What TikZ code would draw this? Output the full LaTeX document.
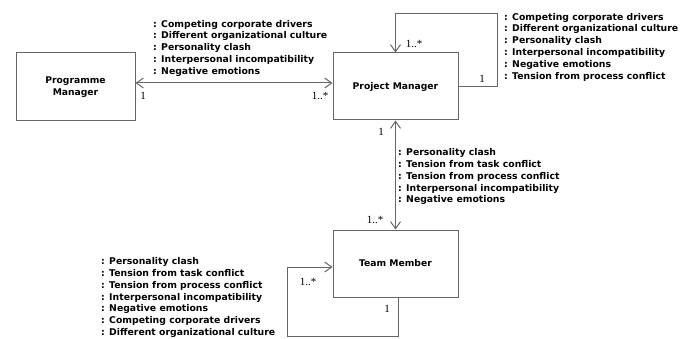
\documentclass[tikz,border=0pt]{standalone}
\usepackage{fontspec}
\setsansfont{DejaVu Sans}
\newfontfamily\multfont{Liberation Serif}
\usetikzlibrary{arrows.meta,calc}
\definecolor{linegray}{HTML}{666666}
\begin{document}
\begin{tikzpicture}[x=1pt,y=-1pt,
  >={Straight Barb[length=7pt,width=10pt]},
  cls/.style={draw=linegray, line width=1pt, rectangle, inner sep=0pt,
    font=\sffamily\bfseries\fontsize{9.2}{12.3}\selectfont, align=center},
  rel/.style={draw=linegray, line width=1pt},
  lbl/.style={anchor=north west, inner sep=0pt, align=left,
    font=\sffamily\bfseries\fontsize{9.3}{11.8}\selectfont},
  mult/.style={inner sep=0pt, font=\multfont\fontsize{11}{12}\selectfont}]
\useasboundingbox (0,0) rectangle (695,339);

\node[cls, minimum width=119pt, minimum height=68pt] (pgm) at (75.5,87) {Programme\\Manager};
\node[cls, minimum width=125pt, minimum height=67pt] (pm) at (395.5,86.5) {Project Manager};
\node[cls, minimum width=125pt, minimum height=67pt] (tm) at (395.5,263.5) {Team Member};

% programme manager -- project manager
\coordinate (h) at (0,83);
\draw[rel,<->] (pgm.east |- h) -- (pm.west |- h);
\node[lbl] (l1) at (153,19.9) {: Competing corporate drivers\\: Different organizational culture\\: Personality clash\\: Interpersonal incompatibility\\: Negative emotions};
\node[mult] (m1a) at (143,96) {1};
\node[mult] (m1b) at (320,96) {1..*};

% project manager self loop
\coordinate (pmc) at (497,14);
\draw[rel,->] (pm.east) -| (pmc) -| (pm.north);
\node[lbl] (l2) at (504,12.9) {: Competing corporate drivers\\: Different organizational culture\\: Personality clash\\: Interpersonal incompatibility\\: Negative emotions\\: Tension from process conflict};
\node[mult] (m2a) at (414,43.5) {1..*};
\node[mult] (m2b) at (482,79) {1};

% project manager -- team member
\draw[rel,<->] (pm.south) -- (tm.north);
\node[lbl] (l3) at (398,148.4) {: Personality clash\\: Tension from task conflict\\: Tension from process conflict\\: Interpersonal incompatibility\\: Negative emotions};
\node[mult] (m3a) at (381,132) {1};
\node[mult] (m3b) at (375,220) {1..*};

% team member self loop
\coordinate (tmc) at (287,336);
\draw[rel,->] ($(tm.south)+(2.5,0)$) |- (tmc) |- ($(tm.west)+(0,3.5)$);
\node[lbl] (l4) at (101,257.4) {: Personality clash\\: Tension from task conflict\\: Tension from process conflict\\: Interpersonal incompatibility\\: Negative emotions\\: Competing corporate drivers\\: Different organizational culture};
\node[mult] (m4a) at (308,282) {1..*};
\node[mult] (m4b) at (387,309) {1};
\end{tikzpicture}
\end{document}
